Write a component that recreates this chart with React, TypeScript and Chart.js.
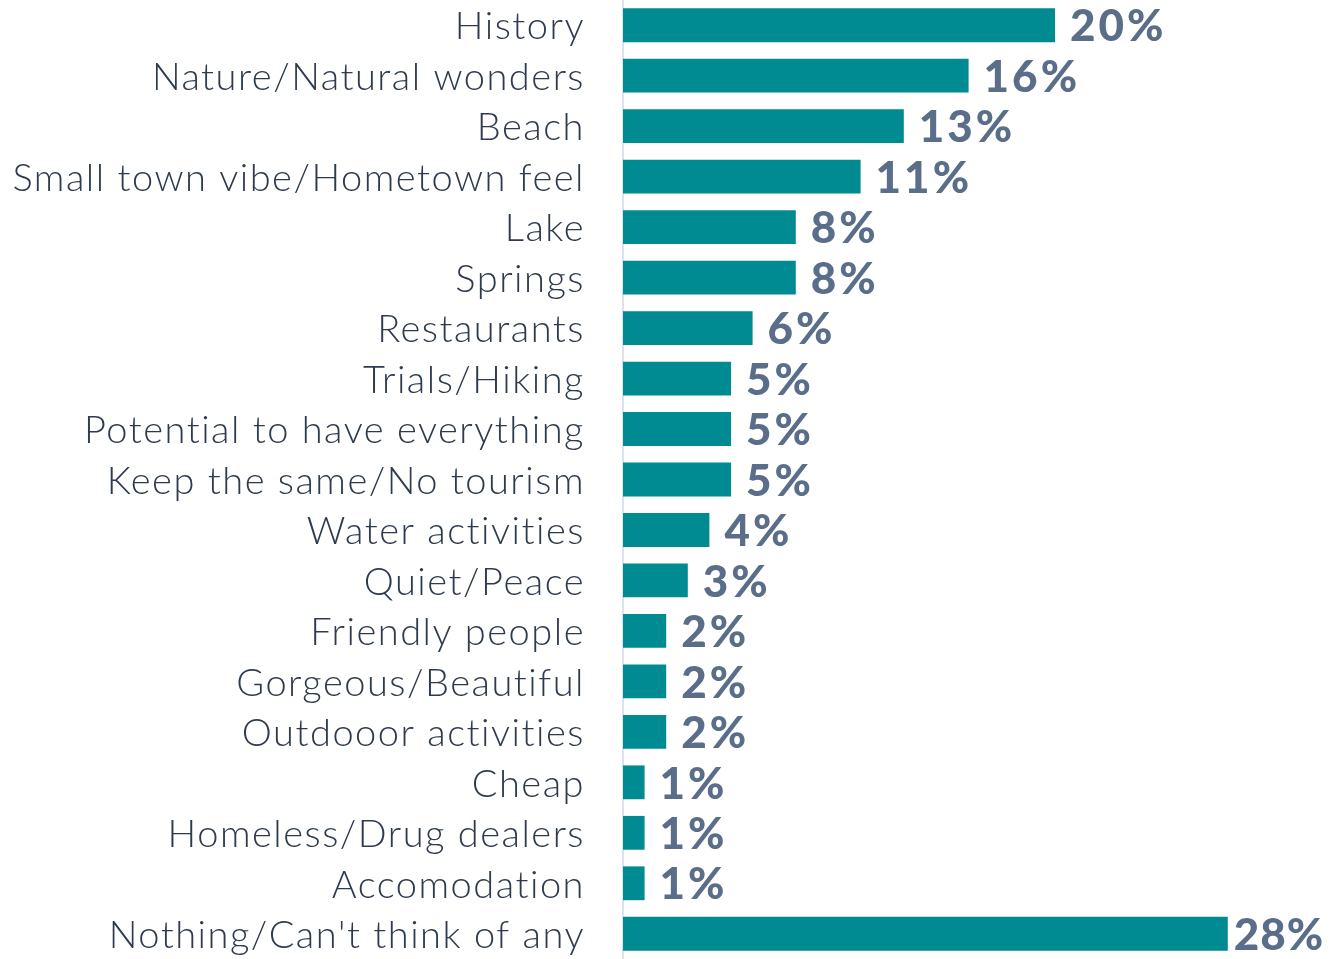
import React, { useEffect, useRef } from "react";
import { Chart, registerables } from "chart.js";

Chart.register(...registerables);

const categories = [
  "History",
  "Nature/Natural wonders",
  "Beach",
  "Small town vibe/Hometown feel",
  "Lake",
  "Springs",
  "Restaurants",
  "Trials/Hiking",
  "Potential to have everything",
  "Keep the same/No tourism",
  "Water activities",
  "Quiet/Peace",
  "Friendly people",
  "Gorgeous/Beautiful",
  "Outdooor activities",
  "Cheap",
  "Homeless/Drug dealers",
  "Accomodation",
  "Nothing/Can't think of any",
];

const values = [20, 16, 13, 11, 8, 8, 6, 5, 5, 5, 4, 3, 2, 2, 2, 1, 1, 1, 28];

const BAR_COLOR = "#008B92";
const LABEL_COLOR = "#2E3B4E";
const VALUE_COLOR = "#5A6E8A";
const AXIS_COLOR = "#DDE2EA";
const FONT = "Lato";

const spacing = {
  id: "spacing",
  beforeDraw(chart: any) {
    (chart.ctx as any).letterSpacing = "1.5px";
  },
};

const valueLabels = {
  id: "valueLabels",
  afterDatasetsDraw(chart: any) {
    const ctx = chart.ctx;
    const meta = chart.getDatasetMeta(0);
    ctx.save();
    ctx.font = `900 44px ${FONT}`;
    ctx.fillStyle = VALUE_COLOR;
    ctx.textBaseline = "middle";
    ctx.textAlign = "left";
    meta.data.forEach((bar: any, i: number) => {
      const text = `${values[i]}%`;
      ctx.letterSpacing = "3px";
      let w = ctx.measureText(text).width;
      let x = bar.x + 15;
      const limit = chart.width - 4;
      if (x + w > limit) {
        x = bar.x + 6;
        ctx.letterSpacing = "1px";
        w = ctx.measureText(text).width;
        if (x + w > limit) x = limit - w;
      }
      ctx.fillText(text, x, bar.y + 2);
    });
    ctx.restore();
  },
};

export default function App() {
  const ref = useRef<HTMLCanvasElement | null>(null);
  useEffect(() => {
    if (!ref.current) return;
    const chart = new Chart(ref.current, {
      type: "bar",
      data: {
        labels: categories,
        datasets: [
          {
            data: values,
            backgroundColor: BAR_COLOR,
            borderWidth: 0,
            barPercentage: 0.67,
            categoryPercentage: 1,
          },
        ],
      },
      options: {
        indexAxis: "y",
        animation: false,
        responsive: false,
        maintainAspectRatio: false,
        layout: { padding: { left: 0, right: 58, top: 0, bottom: 0 } },
        plugins: {
          legend: { display: false },
          tooltip: { enabled: false },
        },
        scales: {
          x: {
            display: false,
            min: 0,
            max: 30,
          },
          y: {
            afterFit: (scale: any) => {
              scale.width = 623;
              scale.paddingTop = 0;
              scale.paddingBottom = 0;
            },
            grid: { display: false },
            border: { display: true, color: AXIS_COLOR, width: 2 },
            ticks: {
              color: LABEL_COLOR,
              padding: 30,
              labelOffset: 2,
              font: { family: FONT, size: 38, weight: 300 },
              autoSkip: false,
            },
          },
        },
      },
      plugins: [spacing, valueLabels],
    });
    return () => chart.destroy();
  }, []);
  return (
    <div style={{ position: "fixed", left: 0, top: 0, width: 1329, height: 959, background: "#fff" }}>
      <canvas ref={ref} width={1329} height={959} style={{ width: 1329, height: 959, display: "block" }} />
    </div>
  );
}
